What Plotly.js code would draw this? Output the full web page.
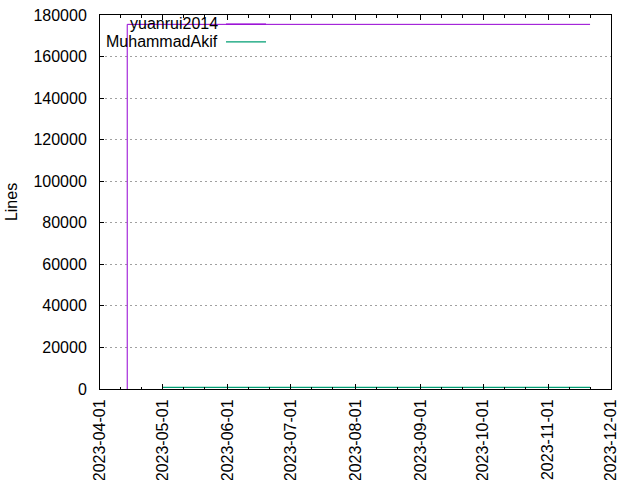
<!DOCTYPE html>
<html>
<head>
<meta charset="utf-8">
<script src="https://cdn.plot.ly/plotly-3.0.1.min.js"></script>
<style>
  html, body { margin: 0; padding: 0; background: #fff; }
  #chart { width: 640px; height: 480px; }
</style>
</head>
<body>
<div id="chart"></div>
<script>
// ---- data ----
const seriesNames = ['yuanrui2014', 'MuhammadAkif'];
const seriesColors = ['#9400d3', '#009e73'];

const yuanruiDates = ['2023-04-14', '2023-04-14', '2023-11-21'];
const yuanruiLines = [0, 175500, 175500];

const akifDates = ['2023-05-01', '2023-11-21'];
const akifLines = [800, 800];

const xRange = ['2023-04-01', '2023-12-01'];
const yRange = [0, 180000];
const yTickStep = 20000;
const yTitle = 'Lines';

// minor tick positions (days 11 and 21 of each month)
const minorTickDays = ['11', '21'];
const months = ['2023-04', '2023-05', '2023-06', '2023-07', '2023-08', '2023-09', '2023-10', '2023-11'];
const minorTicks = [];
months.forEach(m => minorTickDays.forEach(d => minorTicks.push(m + '-' + d)));

const FONT = 'Liberation Sans, Arial, sans-serif';
const FS = 16;

const traces = [
  {
    x: yuanruiDates, y: yuanruiLines, name: seriesNames[0],
    type: 'scatter', mode: 'lines',
    line: { color: seriesColors[0], width: 1 }
  },
  {
    x: akifDates, y: akifLines, name: seriesNames[1],
    type: 'scatter', mode: 'lines',
    line: { color: seriesColors[1], width: 1.2 }
  }
];

// manual gnuplot-style legend: right-aligned text, sample line to the right
const legendTextX = 0.234;
const legendLineX0 = 0.2466, legendLineX1 = 0.3249;
const legendY = [0.976, 0.928];

const annotations = seriesNames.map((n, i) => ({
  xref: 'paper', yref: 'paper', x: legendTextX, y: legendY[i],
  xanchor: 'right', yanchor: 'middle', showarrow: false,
  text: n, font: { family: FONT, size: FS, color: '#000' }
}));
annotations.push({
  xref: 'paper', yref: 'paper', x: -0.174, y: 0.5,
  xanchor: 'center', yanchor: 'middle', showarrow: false,
  text: yTitle, textangle: -90, font: { family: FONT, size: FS, color: '#000' }
});

const shapes = seriesNames.map((n, i) => ({
  type: 'line', xref: 'paper', yref: 'paper',
  x0: legendLineX0, x1: legendLineX1, y0: legendY[i], y1: legendY[i],
  line: { color: seriesColors[i], width: 1.2 }
}));

const layout = {
  width: 640, height: 480,
  margin: { l: 100, r: 29, t: 15, b: 91, pad: 0 },
  paper_bgcolor: '#fff', plot_bgcolor: '#fff',
  showlegend: false,
  font: { family: FONT, size: FS, color: '#000' },
  xaxis: {
    type: 'date', range: xRange,
    dtick: 'M1', tick0: '2023-04-01', tickformat: '%Y-%m-%d',
    tickangle: -90, ticklabelstandoff: 3,
    ticks: 'inside', ticklen: 5, tickwidth: 1, tickcolor: '#000',
    showline: true, linecolor: '#000', linewidth: 1, mirror: 'ticks',
    showgrid: false, zeroline: false,
    minor: { tickmode: 'array', tickvals: minorTicks, ticks: 'inside', ticklen: 2.5, tickcolor: '#000', showgrid: false },
    tickfont: { family: FONT, size: FS, color: '#000' }
  },
  yaxis: {
    range: yRange, dtick: yTickStep, tick0: 0, tickformat: 'd',
    ticklabelstandoff: 9,
    ticks: 'inside', ticklen: 4, tickwidth: 1, tickcolor: '#000',
    showline: true, linecolor: '#000', linewidth: 1, mirror: true,
    showgrid: true, gridcolor: '#a0a0a0', gridwidth: 1, griddash: '2px,3px',
    zeroline: false,
    tickfont: { family: FONT, size: FS, color: '#000' }
  },
  annotations: annotations,
  shapes: shapes
};

Plotly.newPlot('chart', traces, layout, { staticPlot: true, displayModeBar: false });
</script>
</body>
</html>
